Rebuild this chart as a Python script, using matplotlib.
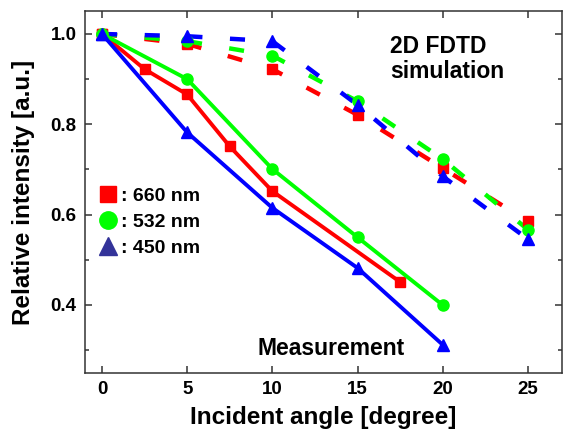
import matplotlib
matplotlib.use("Agg")
import matplotlib.pyplot as plt
from matplotlib.lines import Line2D
from matplotlib.ticker import MultipleLocator, FormatStrFormatter

# ── Data ──────────────────────────────────────────────────────────────────────
# Measurement
meas_660_x = [0, 2.5, 5, 7.5, 10, 17.5]
meas_660_y = [1.0, 0.922, 0.866, 0.751, 0.652, 0.451]
meas_532_x = [0, 5, 10, 15, 20]
meas_532_y = [1.0, 0.900, 0.701, 0.550, 0.400]
meas_450_x = [0, 5, 10, 15, 20]
meas_450_y = [1.0, 0.782, 0.615, 0.482, 0.312]

# 2D FDTD simulation
sim_x = [0, 5, 10, 15, 20, 25]
sim_660_y = [1.0, 0.978, 0.922, 0.821, 0.703, 0.585]
sim_532_y = [1.0, 0.984, 0.952, 0.851, 0.723, 0.567]
sim_450_y = [1.0, 0.995, 0.984, 0.843, 0.685, 0.546]

legend_labels = [": 660 nm", ": 532 nm", ": 450 nm"]

# ── Style ─────────────────────────────────────────────────────────────────────
RED, GREEN, BLUE, NAVY = "#ff0000", "#00ff00", "#0000ff", "#333399"
plt.rcParams["font.family"] = ["Liberation Sans", "DejaVu Sans"]
plt.rcParams["font.weight"] = "bold"

fig = plt.figure(figsize=(5.63, 4.38), dpi=100)
ax = fig.add_axes([0.151, 0.149, 0.847, 0.825])

DASH = (3.4, 6.2)
for y, c, m, ms in [(sim_660_y, RED, "s", 7), (sim_532_y, GREEN, "o", 8),
                    (sim_450_y, BLUE, "^", 8)]:
    ax.plot(sim_x, y, color=c, lw=3.2, dashes=DASH, zorder=2)
    ax.plot(sim_x, y, ls="none", marker=m, ms=ms, color=c, mec=c, zorder=3)

for x, y, c, m, ms in [(meas_660_x, meas_660_y, RED, "s", 7),
                       (meas_532_x, meas_532_y, GREEN, "o", 8),
                       (meas_450_x, meas_450_y, BLUE, "^", 8)]:
    ax.plot(x, y, color=c, lw=2.8, marker=m, ms=ms, mec=c, zorder=4)

ax.set_xlim(-1, 27)
ax.set_ylim(0.25, 1.05)
ax.xaxis.set_major_locator(MultipleLocator(5))
ax.yaxis.set_major_locator(MultipleLocator(0.2))
ax.yaxis.set_minor_locator(MultipleLocator(0.1))
ax.yaxis.set_major_formatter(FormatStrFormatter("%.1f"))
ax.tick_params(which="both", direction="in", top=True, right=True,
               labelsize=13.5, color="#333333", width=1.1)
ax.tick_params(which="major", length=5, pad=6)
ax.tick_params(which="minor", length=3)
for s in ax.spines.values():
    s.set_linewidth(1.1)
    s.set_color("#333333")

ax.set_xlabel("Incident angle [degree]", fontsize=17.5, fontweight="bold", labelpad=6)
ax.set_ylabel("Relative intensity [a.u.]", fontsize=17.5, fontweight="bold", labelpad=11)

ax.text(16.9, 0.945, "2D FDTD\nsimulation", ha="left", va="center",
        multialignment="left", fontsize=16.5, fontweight="bold", linespacing=1.1)
ax.text(9.15, 0.303, "Measurement", ha="left", va="center",
        fontsize=16.5, fontweight="bold")

handles = [Line2D([], [], ls="none", marker="s", ms=12, color=RED),
           Line2D([], [], ls="none", marker="o", ms=12.5, color=GREEN),
           Line2D([], [], ls="none", marker="^", ms=13, color=NAVY)]
ax.legend(handles, legend_labels, loc="upper left", bbox_to_anchor=(0.027, 0.513),
          frameon=False, handlelength=1.0, handletextpad=0.2,
          borderpad=0, borderaxespad=0, labelspacing=0.42,
          prop={"weight": "bold", "size": 14})

fig.savefig("out.png", dpi=100, facecolor="white")
